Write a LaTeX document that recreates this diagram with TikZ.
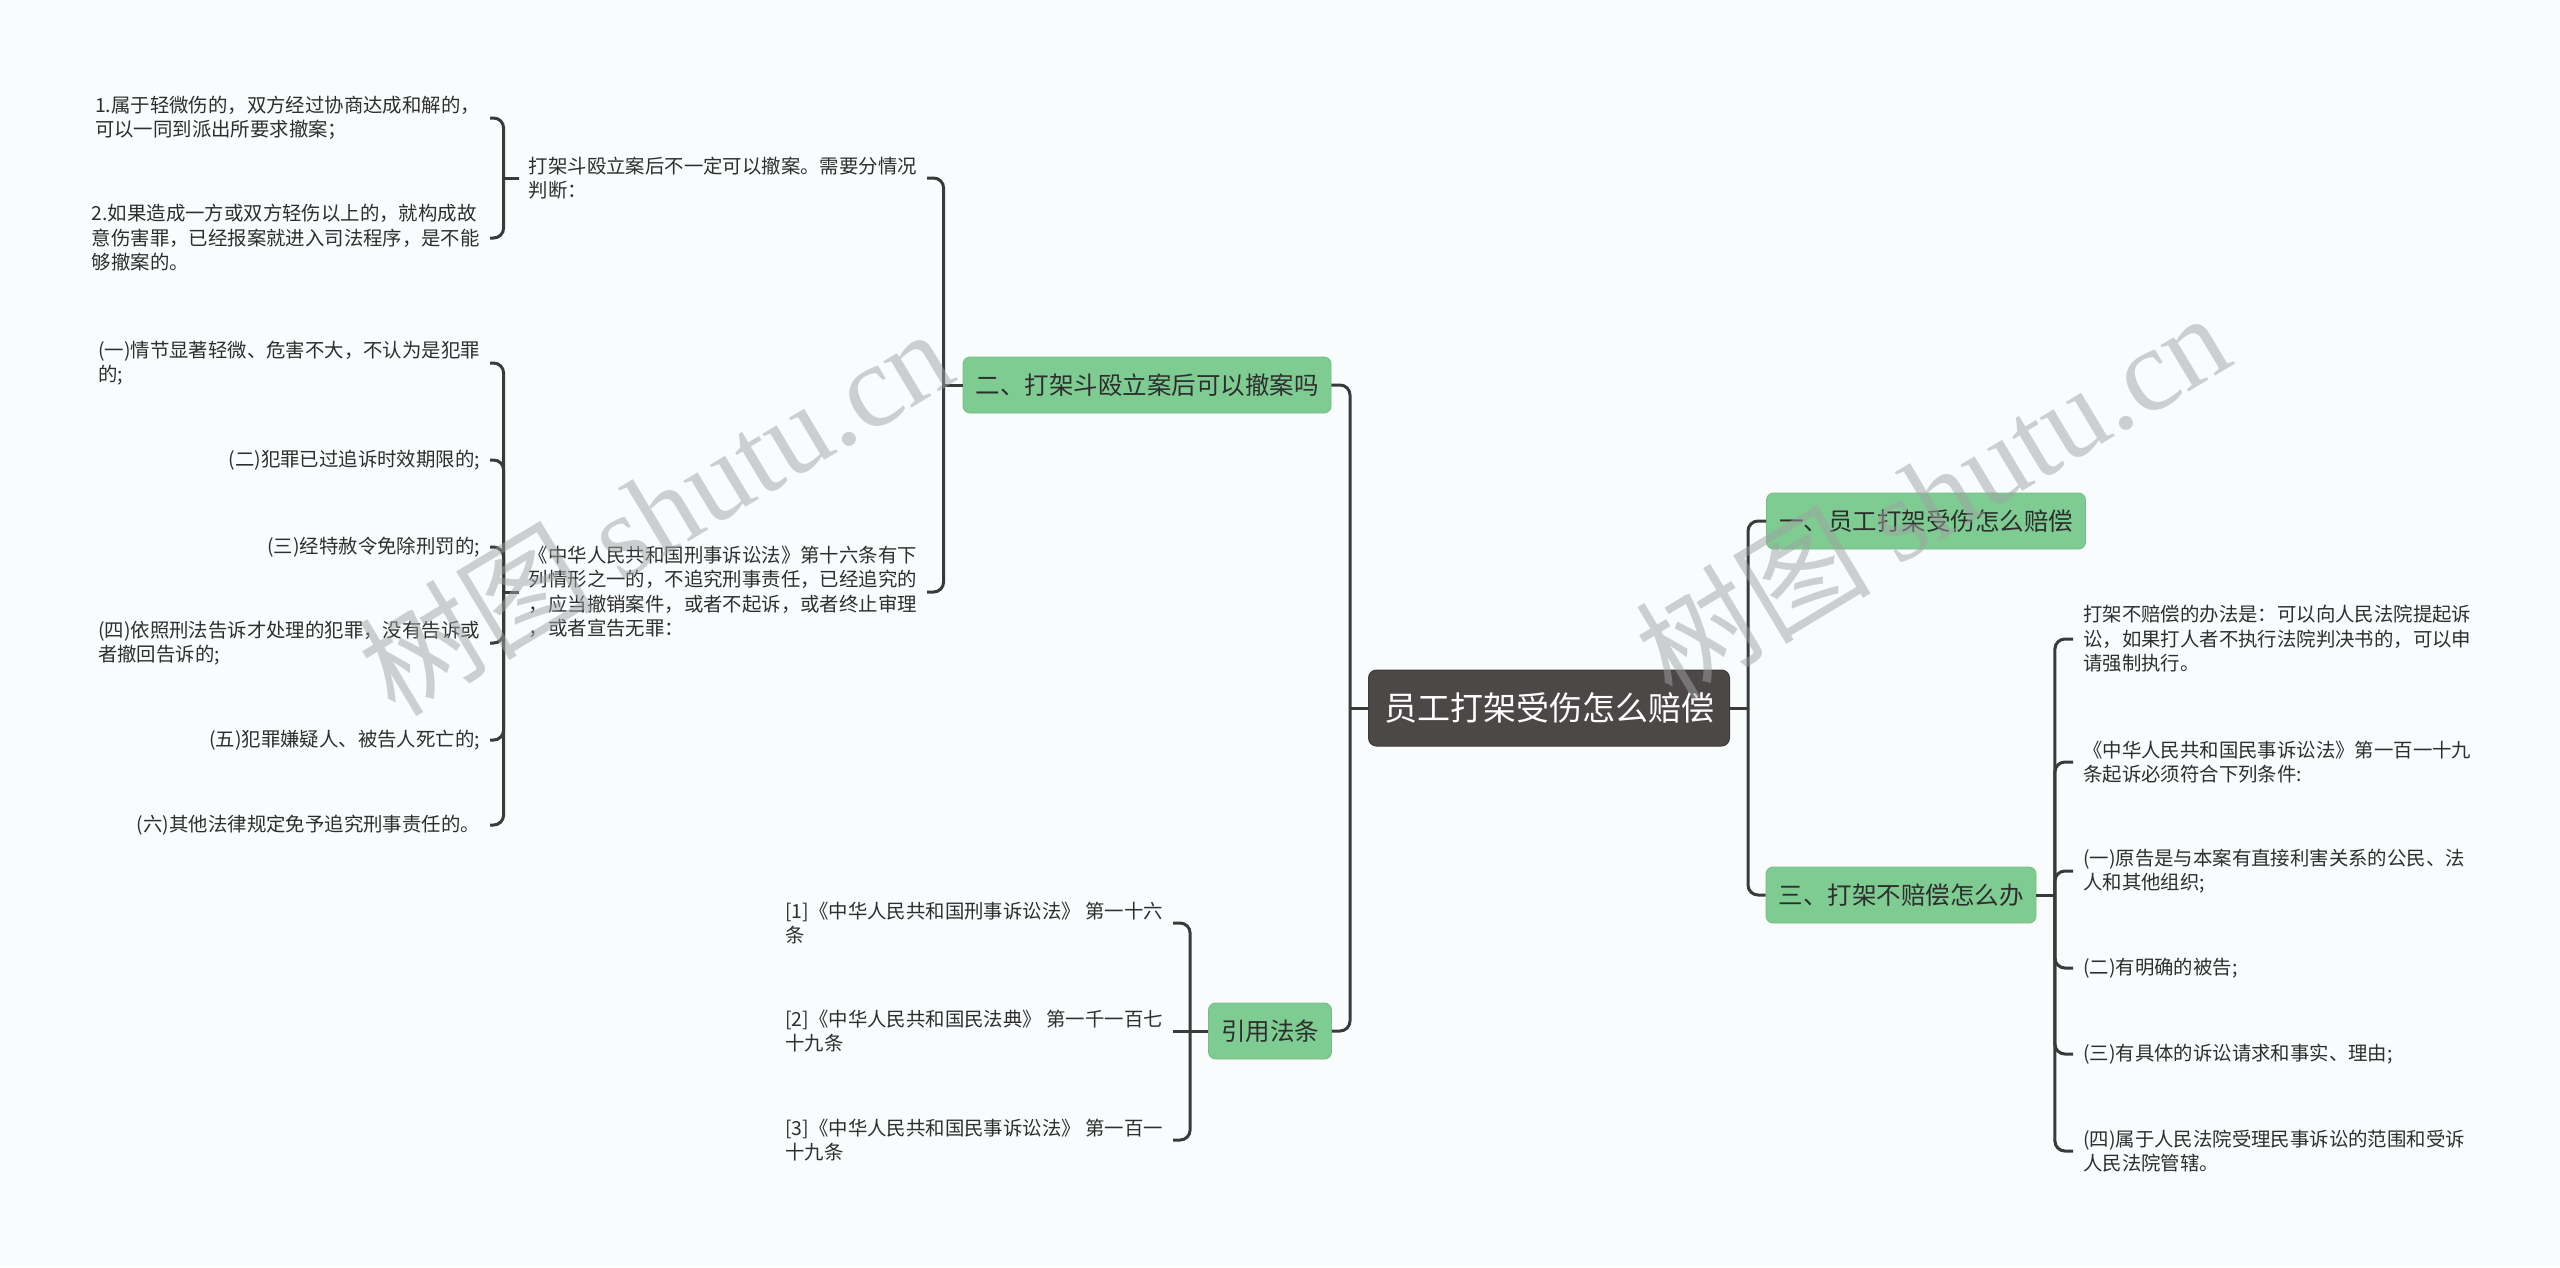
\documentclass[tikz,border=0pt]{standalone}
\usepackage{fontspec}
\setmainfont{Noto Sans CJK SC}
\newfontfamily\wmfont{Liberation Serif}
\usetikzlibrary{positioning}
\definecolor{gruen}{HTML}{7FCC92}
\definecolor{dunkel}{HTML}{4D4848}
\definecolor{linie}{HTML}{3A3A3A}
\definecolor{grund}{HTML}{F9FCFD}
\definecolor{schrift}{HTML}{2E2E2E}
\definecolor{wasser}{HTML}{9EA3A3}

\begin{document}
\begin{tikzpicture}[x=1pt, y=-1pt,
        conn/.style={line width=3pt, linie, rounded corners=10pt},
        haupt/.style={fill=dunkel, draw=dunkel!80!black, line width=1pt,
            rounded corners=8pt, text=white, inner xsep=15.5pt,
            minimum height=76pt, font=\fontsize{33}{38}\selectfont},
        topic/.style={fill=gruen, draw=gruen!92!black, line width=0.8pt,
            rounded corners=7pt, text=schrift, inner xsep=12.5pt,
            minimum height=56pt, font=\fontsize{24.5}{28}\selectfont},
        leaf/.style={align=left, inner xsep=10pt, inner ysep=2pt,
            text=schrift, font=\fontsize{19.4}{24.5}\selectfont},
        wm/.style={text=wasser, text opacity=0.5, rotate=31,
            font=\fontsize{118}{124}\selectfont}
      ]
      \fill[grund] (0,0) rectangle (2560,1267);
      \useasboundingbox (0,0) rectangle (2560,1267);

      % centre and main branches
      \node[haupt] (root) at (1549,708) {员工打架受伤怎么赔偿};
      \node[topic] (erkl) at (1147,385) {二、打架斗殴立案后可以撤案吗};
      \node[topic] (quelle) at (1270,1031) {引用法条};
      \node[topic] (eins) at (1926,521) {一、员工打架受伤怎么赔偿};
      \node[topic] (drei) at (1901,895) {三、打架不赔偿怎么办};

      % left: can the case be withdrawn
      \node[leaf, anchor=east] (fall) at (927,178)
        {打架斗殴立案后不一定可以撤案。需要分情况\\判断：};
      \node[leaf, anchor=east] (gesetz) at (927,592)
        {《中华人民共和国刑事诉讼法》第十六条有下\\列情形之一的，不追究刑事责任，已经追究的\\，应当撤销案件，或者不起诉，或者终止审理\\，或者宣告无罪：};
      \node[leaf, anchor=east] (f1) at (490,118)
        {1.属于轻微伤的，双方经过协商达成和解的，\\可以一同到派出所要求撤案；};
      \node[leaf, anchor=east] (f2) at (490,238)
        {2.如果造成一方或双方轻伤以上的，就构成故\\意伤害罪，已经报案就进入司法程序，是不能\\够撤案的。};
      \node[leaf, anchor=east] (g1) at (490,363) {(一)情节显著轻微、危害不大，不认为是犯罪\\的;};
      \node[leaf, anchor=east] (g2) at (490,460) {(二)犯罪已过追诉时效期限的;};
      \node[leaf, anchor=east] (g3) at (490,547) {(三)经特赦令免除刑罚的;};
      \node[leaf, anchor=east] (g4) at (490,643) {(四)依照刑法告诉才处理的犯罪，没有告诉或\\者撤回告诉的;};
      \node[leaf, anchor=east] (g5) at (490,740) {(五)犯罪嫌疑人、被告人死亡的;};
      \node[leaf, anchor=east] (g6) at (490,825) {(六)其他法律规定免予追究刑事责任的。};

      % left: cited articles
      \node[leaf, anchor=east] (q1) at (1173,923) {[1]《中华人民共和国刑事诉讼法》 第一十六\\条};
      \node[leaf, anchor=east] (q2) at (1173,1031) {[2]《中华人民共和国民法典》 第一千一百七\\十九条};
      \node[leaf, anchor=east] (q3) at (1173,1140) {[3]《中华人民共和国民事诉讼法》 第一百一\\十九条};

      % right: what if no compensation
      \node[leaf, anchor=west] (r1) at (2073,639)
        {打架不赔偿的办法是：可以向人民法院提起诉\\讼，如果打人者不执行法院判决书的，可以申\\请强制执行。};
      \node[leaf, anchor=west] (r2) at (2073,762)
        {《中华人民共和国民事诉讼法》第一百一十九\\条起诉必须符合下列条件:};
      \node[leaf, anchor=west] (r3) at (2073,871) {(一)原告是与本案有直接利害关系的公民、法\\人和其他组织;};
      \node[leaf, anchor=west] (r4) at (2073,968) {(二)有明确的被告;};
      \node[leaf, anchor=west] (r5) at (2073,1054) {(三)有具体的诉讼请求和事实、理由;};
      \node[leaf, anchor=west] (r6) at (2073,1151) {(四)属于人民法院受理民事诉讼的范围和受诉\\人民法院管辖。};

      % junctions
      \coordinate (lj) at ([xshift=-18pt]root.west);
      \coordinate (rj) at ([xshift=18pt]root.east);
      \coordinate (ej) at ([xshift=-19pt]erkl.west);
      \coordinate (fj) at ([xshift=-15pt]fall.west);
      \coordinate (gj) at ([xshift=-15pt]gesetz.west);
      \coordinate (qj) at ([xshift=-18pt]quelle.west);
      \coordinate (dj) at ([xshift=18.5pt]drei.east);

      % connectors
      \draw[conn] (root.west) -- (lj);
      \draw[conn] (root.east) -- (rj);
      \foreach \k in {erkl, quelle} \draw[conn] (lj) |- (\k.east);
      \foreach \k in {eins, drei} \draw[conn] (rj) |- (\k.west);
      \draw[conn] (erkl.west) -- (ej);
      \foreach \k in {fall, gesetz} \draw[conn] (ej) |- (\k.east);
      \draw[conn] (fall.west) -- (fj);
      \foreach \k in {f1, f2} \draw[conn] (fj) |- (\k.east);
      \draw[conn] (gesetz.west) -- (gj);
      \foreach \k in {g1, g2, g3, g4, g5, g6} \draw[conn] (gj) |- (\k.east);
      \draw[conn] (quelle.west) -- (qj);
      \draw[conn] (qj) -- (q2.east);
      \foreach \k in {q1, q3} \draw[conn] (qj) |- (\k.east);
      \draw[conn] (drei.east) -- (dj);
      \foreach \k in {r1, r2, r3, r4, r5, r6} \draw[conn] (dj) |- (\k.west);

      % watermarks
      \node[wm] (wm1) at (655,510) {树图 {\wmfont shutu.cn}};
      \node[wm] (wm2) at (1932,494) {树图 {\wmfont shutu.cn}};
    \end{tikzpicture}
\end{document}
